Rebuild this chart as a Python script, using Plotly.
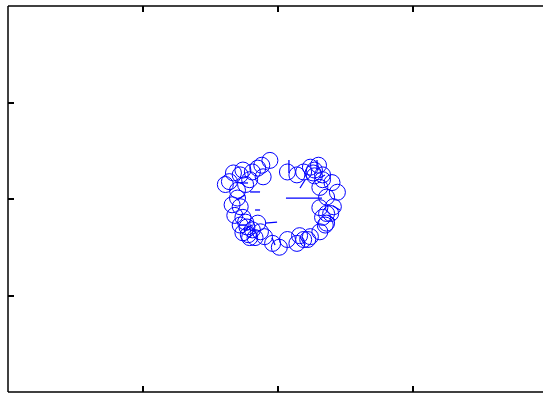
import plotly.graph_objects as go

# agent positions (circles)
pos_x = [-0.06, 0.07, -0.33, -0.36, -0.26, -0.19, -0.11, -0.15, -0.30, -0.30,
         -0.28, -0.32, -0.26, -0.23, -0.26, -0.19, -0.13, -0.15, -0.21, -0.04,
         0.01, 0.07, 0.14, 0.19, 0.24, 0.31, 0.36, 0.33, 0.39, 0.41,
         0.44, 0.36, 0.31, 0.33, 0.26, 0.19, 0.24, 0.30, 0.40, -0.39,
         -0.28, 0.16, 0.36, 0.27, 0.14, -0.10,
         -0.24, -0.21, -0.28, -0.22, -0.17, -0.24, 0.31, 0.35, 0.27, 0.33,
         0.22, -0.34, -0.12]
pos_y = [0.40, 0.28, 0.27, 0.18, 0.30, 0.28, 0.23, 0.32, 0.09, 0.01,
         -0.08, -0.17, -0.19, -0.29, -0.35, -0.32, -0.34, -0.25, -0.40, -0.46,
         -0.50, -0.42, -0.46, -0.42, -0.39, -0.34, -0.25, -0.19, -0.15, -0.08,
         0.07, 0.02, 0.12, 0.20, 0.27, 0.28, 0.33, 0.35, 0.17, 0.15,
         -0.27, -0.38, -0.15, 0.24, 0.25, -0.39,
         0.15, 0.20, 0.25, -0.37, -0.40, -0.24, -0.09, -0.27, 0.30, 0.25,
         -0.42, -0.06, 0.35]

# velocity segments (start point + components)
vel_x0 = [0.059, 0.081, 0.289, -0.207, -0.170, -0.096, -0.304, 0.407, -0.044, -0.252,
          0.200, 0.311, -0.281, 0.370, -0.222, 0.200]
vel_y0 = [0.010, 0.404, 0.404, 0.073, -0.114, -0.249, -0.010, -0.073, -0.404, -0.321,
          0.197, 0.218, 0.166, -0.166, -0.404, -0.477]
vel_u = [0.267, 0.0, 0.0, 0.074, 0.037, 0.089, 0.059, 0.052, 0.022, 0.059,
         -0.037, 0.037, 0.059, 0.052, 0.059, -0.037]
vel_v = [0.0, -0.135, -0.104, 0.0, 0.0, 0.010, 0.052, -0.041, -0.073, 0.052,
         -0.083, 0.031, 0.0, -0.052, 0.062, 0.083]

seg_x, seg_y = [], []
for x0, y0, u, v in zip(vel_x0, vel_y0, vel_u, vel_v):
    seg_x += [x0, x0 + u, None]
    seg_y += [y0, y0 + v, None]

fig = go.Figure()

fig.add_trace(go.Scatter(
    x=seg_x, y=seg_y, mode="lines",
    line=dict(color="#0000ff", width=1.3),
    hoverinfo="skip",
))

fig.add_trace(go.Scatter(
    x=pos_x, y=pos_y, mode="markers",
    marker=dict(symbol="circle-open", size=16, color="#0000ff",
                line=dict(color="#0000ff", width=1)),
))

# box: left, top, bottom (right edge falls outside the window)
frame = dict(color="black", width=1.5)
fig.add_shape(type="line", xref="paper", yref="paper", x0=0, x1=0, y0=0, y1=1, line=frame)
fig.add_shape(type="line", xref="paper", yref="paper", x0=0, x1=1, y0=1, y1=1, line=frame)
fig.add_shape(type="line", xref="paper", yref="paper", x0=0, x1=1, y0=0, y1=0, line=frame)

fig.update_layout(
    width=543,
    height=394,
    margin=dict(l=8, r=0, t=6, b=2),
    paper_bgcolor="white",
    plot_bgcolor="white",
    showlegend=False,
)

fig.update_xaxes(
    range=[-2, 2 - 5 / 135],
    tickvals=[-1, 0, 1],
    ticks="inside", ticklen=6, tickwidth=1.5, tickcolor="black",
    mirror="ticks", showline=False,
    showticklabels=False, showgrid=False, zeroline=False,
)
fig.update_yaxes(
    range=[-2, 2],
    tickvals=[-1, 0, 1],
    ticks="inside", ticklen=6, tickwidth=1.5, tickcolor="black",
    showline=False,
    showticklabels=False, showgrid=False, zeroline=False,
)

# page body margin would push the chart 8px down/right
fig.write_html("out.html", config={"displayModeBar": False},
               post_script="document.body.style.margin='0';")
